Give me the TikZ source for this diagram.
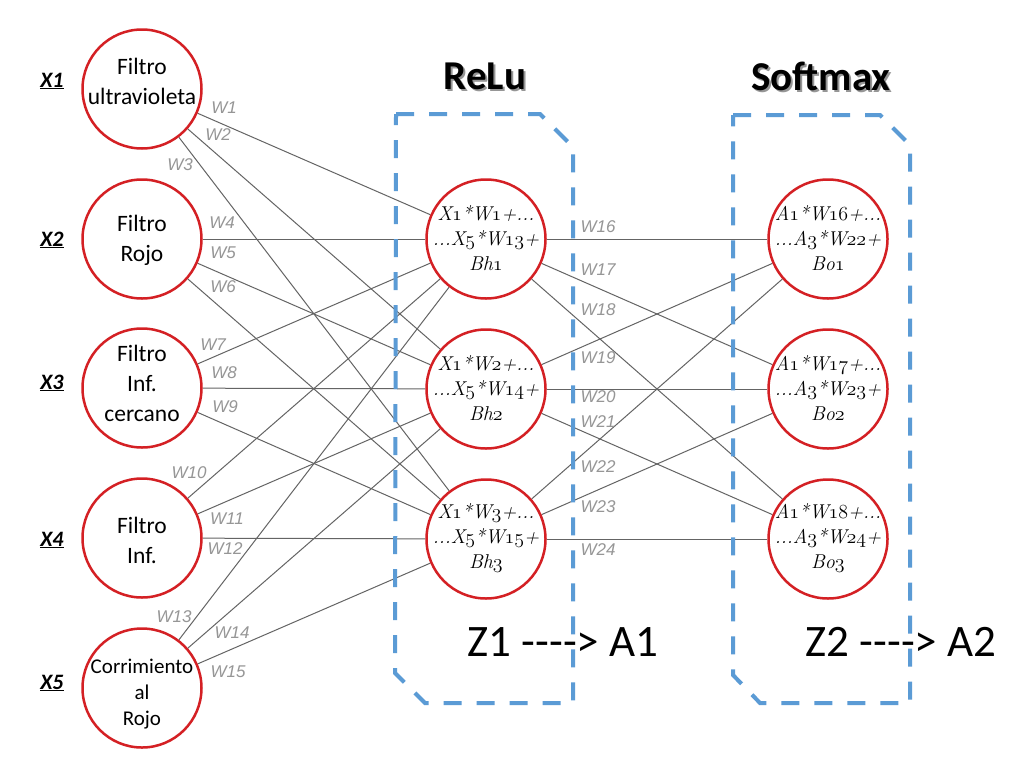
\RequirePackage{fix-cm}
\documentclass[tikz,border=0pt]{standalone}
\usepackage{fontspec}
\setmainfont{Carlito}
\newfontfamily\wfont{Liberation Sans}
\newfontfamily\lmfont{Latin Modern Roman}
\usetikzlibrary{backgrounds}
\definecolor{nodered}{RGB}{212,32,36}
\definecolor{boxblue}{RGB}{91,155,213}
\definecolor{edgegray}{RGB}{100,100,100}
\definecolor{wgray}{RGB}{150,150,150}
\definecolor{shadowgray}{RGB}{150,150,150}
\newcommand{\os}[1]{{\usefont{OML}{cmm}{m}{it}#1}}
\newcommand{\arrowtxt}{-\kern0pt-\kern0pt-\kern0pt-\kern0pt>}
\tikzset{
  circ/.style={circle, draw=nodered, line width=2.5pt, fill=white, minimum size=119pt, inner sep=0pt},
  intext/.style={align=center, inner sep=0pt, font=\fontsize{23.5}{30}\selectfont},
  smalltext/.style={align=center, inner sep=0pt, font=\fontsize{21}{26}\selectfont},
  formtext/.style={align=center, inner sep=0pt, font=\lmfont\itshape\fontsize{20}{25}\selectfont},
  xlab/.style={inner sep=0pt, font=\bfseries\itshape\fontsize{22}{22}\selectfont},
  wlab/.style={inner sep=0pt, text=wgray, font=\wfont\itshape\fontsize{17}{17}\selectfont},
  edge/.style={draw=edgegray, line width=1pt},
  dbox/.style={draw=boxblue, line width=4pt, dash pattern=on 18pt off 15pt},
  title/.style={inner sep=0pt, font=\bfseries\fontsize{41}{41}\selectfont},
  ztext/.style={inner sep=0pt, font=\fontsize{45}{45}\selectfont},
}
\begin{document}
\begin{tikzpicture}[x=1pt, y=-1pt]
\useasboundingbox (0,0) rectangle (1011,782);
% input nodes
\node[circ] (in1) at (142,89) {};
\node[circ] (in2) at (142,239) {};
\node[circ] (in3) at (142,388) {};
\node[circ] (in4) at (142,538) {};
\node[circ] (in5) at (142,688) {};
\node[intext] (t1) at (142,81) {Filtro\\ultravioleta};
\node[intext] (t2) at (142,240) {Filtro\\Rojo};
\node[intext] (t3) at (142,383) {Filtro\\Inf.\\cercano};
\node[intext] (t4) at (142,540) {Filtro\\Inf.};
\node[smalltext] (t5) at (142,694) {Corrimiento\\al\\Rojo};
% hidden nodes
\node[circ] (h1) at (486,239) {};
\node[circ] (h2) at (486,389) {};
\node[circ] (h3) at (486,539) {};
\node[formtext] (ht1) at (486,238) {X\os{1}*W\os{1}+...\\...X\os{5}*W\os{13}+\\Bh\os{1}};
\node[formtext] (ht2) at (486,388) {X\os{1}*W\os{2}+...\\...X\os{5}*W\os{14}+\\Bh\os{2}};
\node[formtext] (ht3) at (486,538) {X\os{1}*W\os{3}+...\\...X\os{5}*W\os{15}+\\Bh\os{3}};
% output nodes
\node[circ] (o1) at (828,239) {};
\node[circ] (o2) at (828,389) {};
\node[circ] (o3) at (828,539) {};
\node[formtext] (ot1) at (828,238) {A\os{1}*W\os{16}+...\\...A\os{3}*W\os{22}+\\Bo\os{1}};
\node[formtext] (ot2) at (828,388) {A\os{1}*W\os{17}+...\\...A\os{3}*W\os{23}+\\Bo\os{2}};
\node[formtext] (ot3) at (828,538) {A\os{1}*W\os{18}+...\\...A\os{3}*W\os{24}+\\Bo\os{3}};
% edges behind
\begin{scope}[on background layer]
\fill[white] (0,0) rectangle (1011,782);
\foreach \i in {1,...,5}{\foreach \j in {1,2,3}{\draw[edge] (in\i) -- (h\j);}}
\foreach \j in {1,2,3}{\foreach \k in {1,2,3}{\draw[edge] (h\j) -- (o\k);}}
\end{scope}
% X labels
\node[xlab] (x1) at (52,81) {\underline{X1}};
\node[xlab] (x2) at (52,240) {\underline{X2}};
\node[xlab] (x3) at (52,383) {\underline{X3}};
\node[xlab] (x4) at (52,540) {\underline{X4}};
\node[xlab] (x5) at (52,683) {\underline{X5}};
% weight labels
\node[wlab] (w1) at (224,108) {W1};
\node[wlab] (w2) at (218,135) {W2};
\node[wlab] (w3) at (180,165) {W3};
\node[wlab] (w4) at (222,223) {W4};
\node[wlab] (w5) at (223,253) {W5};
\node[wlab] (w6) at (223,287) {W6};
\node[wlab] (w7) at (213,345) {W7};
\node[wlab] (w8) at (224,373) {W8};
\node[wlab] (w9) at (225,407) {W9};
\node[wlab] (w10) at (189,473) {W10};
\node[wlab] (w11) at (227,519) {W11};
\node[wlab] (w12) at (225,549) {W12};
\node[wlab] (w13) at (174,617) {W13};
\node[wlab] (w14) at (232,633) {W14};
\node[wlab] (w15) at (228,672) {W15};
\node[wlab] (w16) at (598,227) {W16};
\node[wlab] (w17) at (598,270) {W17};
\node[wlab] (w18) at (598,310) {W18};
\node[wlab] (w19) at (598,358) {W19};
\node[wlab] (w20) at (598,397) {W20};
\node[wlab] (w21) at (598,422) {W21};
\node[wlab] (w22) at (598,467) {W22};
\node[wlab] (w23) at (598,507) {W23};
\node[wlab] (w24) at (598,550) {W24};
% dashed boxes
\draw[dbox] (396,114) -- (540,114) -- (573,147) -- (573,703) -- (425,703) -- (395,673) -- cycle;
\draw[dbox] (733,115) -- (880,115) -- (910,145) -- (910,703) -- (760,703) -- (733,675) -- cycle;
% titles
\node[title, text=shadowgray] (relushadow) at (487,78) {ReLu};
\node[title] (relu) at (485,76) {ReLu};
\node[title, text=shadowgray] (softshadow) at (823,78) {Softmax};
\node[title] (soft) at (821,76) {Softmax};
% Z texts
\node[ztext] (z1) at (563,642) {Z1 \arrowtxt{} A1};
\node[ztext] (z2) at (901,642) {Z2 \arrowtxt{} A2};
\end{tikzpicture}
\end{document}
